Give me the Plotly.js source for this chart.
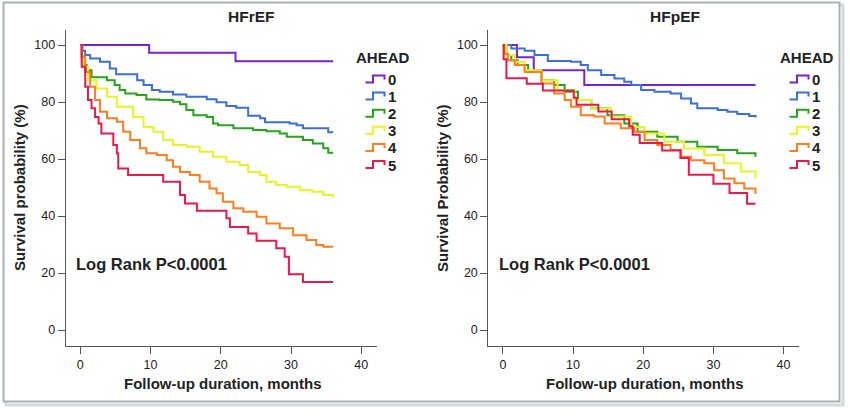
<!DOCTYPE html>
<html>
<head>
<meta charset="utf-8">
<script src="https://cdn.plot.ly/plotly-3.0.1.min.js"></script>
<style>html,body{margin:0;padding:0;background:#fff;}#chart{width:850px;height:416px;}</style>
</head>
<body>
<div id="chart"></div>
<script>
// ---------- data ----------
const groups = ['0', '1', '2', '3', '4', '5'];
const panelTitles = ['HFrEF', 'HFpEF'];
const yTitles = ['Survival probability (%)', 'Survival Probability (%)'];
const xTitle = 'Follow-up duration, months';
const legendTitle = 'AHEAD';
const pText = 'Log Rank P<0.0001';
const xTicks = [0, 10, 20, 30, 40];
const yTicks = [0, 20, 40, 60, 80, 100];

// HFrEF (left)
const rT0 = [0, 9.8, 22.1, 36];
const rS0 = [100, 97.3, 94.3, 94.3];
const rT1 = [0, 0.3, 0.7, 1.4, 2.8, 4.2, 5.1, 8.1, 9.0, 10.2, 11.3, 13.2, 15.1, 18.0, 19.4, 20.8, 22.2, 23.9, 25.6, 26.3, 29.8, 30.8, 31.7, 35.3, 36];
const rS1 = [100, 98, 96.5, 95.3, 94.2, 91.8, 89.8, 87.7, 86, 84.2, 83.6, 82.7, 81.9, 81, 79.9, 78.6, 78, 75.2, 74.3, 72.9, 72.5, 71.9, 70.8, 69.4, 69.4];
const rT2 = [0, 0.2, 0.4, 0.9, 1.6, 3.8, 4.9, 5.6, 6.4, 8.0, 9.4, 11.3, 13.2, 14.2, 15.1, 16.1, 18.0, 18.9, 19.6, 21.8, 24.6, 26.5, 28.4, 29.4, 31.7, 33.1, 34.6, 35.3, 36];
const rS2 = [100, 96, 93, 91.2, 88.7, 87.7, 86, 84.2, 83, 82.5, 80.9, 80.7, 80.1, 79.2, 77.2, 75.4, 74.8, 72.5, 71.9, 70.8, 70.2, 69.8, 69, 67.8, 66.7, 65.5, 63.8, 62.2, 62.2];
const rT3 = [0, 0.2, 0.4, 1.1, 2.3, 3.8, 5.2, 7.5, 9.0, 10.4, 11.8, 13.2, 15.1, 17.0, 18.9, 20.8, 22.7, 23.9, 25.6, 26.5, 27.9, 29.4, 31.3, 33.1, 34.6, 36];
const rS3 = [100, 95.5, 92.4, 87.7, 84.8, 81.9, 78.4, 74.8, 71.3, 69.6, 66.7, 64.9, 64.3, 62.6, 60.8, 59.1, 57.9, 55.5, 54.4, 52, 50.9, 50.3, 49.1, 48.5, 47.4, 46.6];
const rT4 = [0, 0.2, 0.7, 1.4, 2.1, 2.8, 3.8, 5.2, 6.1, 7.1, 8.5, 9.4, 10.9, 12.3, 13.2, 14.2, 15.6, 17.0, 18.4, 19.4, 20.3, 21.8, 23.2, 25.1, 26.5, 28.4, 30.3, 32.2, 33.6, 34.6, 36];
const rS4 = [100, 95.9, 90.6, 85.4, 80.7, 76.6, 74.3, 73.1, 69.6, 66.7, 63.8, 62, 61.4, 59.6, 57.3, 55.5, 54.4, 52, 49.7, 48, 45, 42.7, 41.5, 39.8, 37.4, 35.7, 33.3, 31.6, 29.8, 29.2, 29.2];
const rT5 = [0, 0.2, 0.7, 1.1, 1.6, 2.1, 2.6, 3.0, 4.7, 5.2, 5.4, 6.8, 11.8, 14.2, 14.9, 16.6, 20.8, 21.3, 23.9, 25.1, 27.9, 29.1, 29.7, 31.7, 36];
const rS5 = [100, 92.4, 85.4, 80.7, 77.8, 74.8, 72.5, 69, 64.9, 62, 56.7, 54.4, 52, 47.4, 44.4, 41.9, 39.2, 36.2, 33.9, 31.3, 28.7, 25.7, 19.6, 16.9, 16.9];

// HFpEF (right)
const pT0 = [0, 2.0, 4.4, 11.6, 36];
const pS0 = [100, 95.7, 91.2, 86, 86];
const pT1 = [0, 1.2, 3.1, 4.5, 6.4, 9.7, 11.1, 12.1, 14.0, 15.9, 17.3, 18.3, 19.7, 21.6, 23.9, 25.4, 26.8, 27.7, 30.6, 32.0, 33.4, 35.1, 36];
const pS1 = [100, 98.8, 98, 96.5, 94.4, 94.2, 93, 91.2, 89.5, 88.3, 87.1, 86, 84.2, 83.6, 83, 81.3, 79.5, 77.8, 77.2, 76.6, 75.8, 75.1, 74.6];
const pT2 = [0, 0.5, 1.2, 2.1, 3.6, 5.5, 7.3, 8.8, 10.7, 12.6, 14.9, 17.3, 19.2, 22.0, 24.9, 27.7, 30.6, 33.4, 36];
const pS2 = [100, 96.5, 94.7, 93, 90.6, 87.7, 86, 83.6, 80.7, 77.8, 75.4, 72.5, 69.6, 67.8, 66.1, 64.3, 63.2, 62, 60.8];
const pT3 = [0, 0.5, 1.7, 3.1, 5.5, 7.8, 10.2, 12.6, 15.4, 18.3, 20.2, 23.0, 25.8, 28.7, 31.5, 33.9, 36];
const pS3 = [100, 96.5, 94.2, 91.2, 87.7, 84.2, 80.7, 77.8, 74.9, 71.3, 69, 66.1, 63.7, 61.4, 58.5, 55.6, 53.2];
const pT4 = [0, 0.2, 0.7, 1.7, 3.1, 5.5, 7.3, 8.8, 9.7, 11.1, 13.0, 14.5, 16.8, 18.7, 20.2, 22.0, 23.9, 25.4, 26.8, 28.7, 30.1, 31.5, 33.0, 34.4, 36];
const pS4 = [100, 97, 94.7, 93, 90.6, 86.5, 83, 80.7, 78.4, 75.4, 74.9, 72.5, 70.8, 69.6, 66.7, 64.9, 63.2, 60.8, 59.6, 58.5, 56.1, 53.2, 51.5, 49.7, 47.7];
const pT5 = [0, 0.1, 0.5, 3.4, 5.7, 10.1, 10.5, 13.6, 15.5, 18.0, 18.5, 19.5, 22.7, 25.3, 26.5, 30.0, 32.3, 34.8, 36];
const pS5 = [100, 95, 88.4, 86.4, 84.1, 81.5, 79.1, 76.7, 74, 71.5, 68.5, 65.6, 63, 60.4, 54.5, 51.3, 48.1, 44.3, 44.3];

// ---------- style ----------
const colors = ['#7b22c9', '#3b6fd9', '#27a31f', '#e9f222', '#ff7d1f', '#e8194b'];
const W = 850, H = 416;
const FONT = 'Liberation Sans, Arial, sans-serif';
const px = v => v / W;
const py = v => 1 - v / H;

const left = [{ t: rT0, s: rS0 }, { t: rT1, s: rS1 }, { t: rT2, s: rS2 }, { t: rT3, s: rS3 }, { t: rT4, s: rS4 }, { t: rT5, s: rS5 }];
const right = [{ t: pT0, s: pS0 }, { t: pT1, s: pS1 }, { t: pT2, s: pS2 }, { t: pT3, s: pS3 }, { t: pT4, s: pS4 }, { t: pT5, s: pS5 }];

const traces = [];
[left, right].forEach((panel, pi) => {
  panel.forEach((d, gi) => {
    traces.push({
      x: d.t, y: d.s, type: 'scatter', mode: 'lines',
      line: { shape: 'hv', color: colors[gi], width: 2 },
      xaxis: pi === 0 ? 'x' : 'x2', yaxis: pi === 0 ? 'y' : 'y2',
      showlegend: false, hoverinfo: 'skip'
    });
  });
});

// panel geometry (pixels)
const panels = [
  { x0: 65.7, x1: 376.7, titleX: 252, yTitleX: 20, legX: 354, iconX: 365.5, pX: 74 },
  { x0: 488.3, x1: 799, titleX: 675, yTitleX: 443, legX: 778, iconX: 789.5, pX: 497 }
];
const yTop = 30, yBot = 345.7;

function axX(dom) {
  return {
    domain: dom, range: [-2.08, 42.2], tickvals: xTicks, ticktext: xTicks.map(String),
    ticks: 'outside', ticklen: 7, tickcolor: '#555', tickwidth: 1,
    showline: true, linecolor: '#555', linewidth: 1, showgrid: false, zeroline: false,
    tickfont: { family: FONT, size: 12.5, color: '#222' }, automargin: false, fixedrange: true
  };
}
function axY(anchor) {
  return {
    domain: [py(yBot), py(yTop)], range: [-5.5, 105.3], tickvals: yTicks, ticktext: yTicks.map(String),
    ticks: 'outside', ticklen: 7, tickcolor: '#555', tickwidth: 1,
    showline: true, linecolor: '#555', linewidth: 1, showgrid: false, zeroline: false,
    tickfont: { family: FONT, size: 12.5, color: '#222' }, automargin: false, anchor: anchor, fixedrange: true
  };
}

const annotations = [];
const shapes = [];
// frame with shadow
shapes.push({ type: 'rect', xref: 'paper', yref: 'paper', x0: px(6), x1: px(843), y0: py(5), y1: py(405),
  line: { color: '#d6d9d9', width: 3 }, fillcolor: 'rgba(0,0,0,0)', layer: 'below' });
shapes.push({ type: 'rect', xref: 'paper', yref: 'paper', x0: px(3.5), x1: px(839.5), y0: py(2.5), y1: py(401.5),
  line: { color: '#a9b2b2', width: 2 }, fillcolor: '#ffffff', layer: 'below' });

panels.forEach((p, pi) => {
  annotations.push({ text: '<b>' + panelTitles[pi] + '</b>', xref: 'paper', yref: 'paper', x: px(p.titleX), y: py(17),
    xanchor: 'center', yanchor: 'middle', showarrow: false, font: { family: FONT, size: 15.5, color: '#222' } });
  annotations.push({ text: '<b>' + xTitle + '</b>', xref: 'paper', yref: 'paper', x: px((p.x0 + p.x1) / 2 + 1), y: py(383),
    xanchor: 'center', yanchor: 'middle', showarrow: false, font: { family: FONT, size: 15, color: '#222' } });
  annotations.push({ text: '<b>' + yTitles[pi] + '</b>', xref: 'paper', yref: 'paper', x: px(p.yTitleX), y: py(188),
    xanchor: 'center', yanchor: 'middle', textangle: -90, showarrow: false, font: { family: FONT, size: 15, color: '#222' } });
  annotations.push({ text: '<b>' + pText + '</b>', xref: 'paper', yref: 'paper', x: px(p.pX), y: py(264),
    xanchor: 'left', yanchor: 'middle', showarrow: false, font: { family: FONT, size: 16.5, color: '#222' } });
  annotations.push({ text: '<b>' + legendTitle + '</b>', xref: 'paper', yref: 'paper', x: px(p.legX), y: py(57),
    xanchor: 'left', yanchor: 'middle', showarrow: false, font: { family: FONT, size: 15, color: '#222' } });
  groups.forEach((g, gi) => {
    const cy = 79 + gi * 17.1;
    annotations.push({ text: '<b>' + g + '</b>', xref: 'paper', yref: 'paper', x: px(p.iconX + 20), y: py(cy + 0.5),
      xanchor: 'left', yanchor: 'middle', showarrow: false, font: { family: FONT, size: 15, color: '#222' } });
    const a = p.iconX, b = p.iconX + 7.5, c = p.iconX + 19;
    const yb = cy + 3.5, yt = cy - 3.5, ye = cy + 0.5;
    shapes.push({ type: 'path', xref: 'paper', yref: 'paper',
      path: `M ${px(a)} ${py(yb)} L ${px(b)} ${py(yb)} L ${px(b)} ${py(yt)} L ${px(c)} ${py(yt)} L ${px(c)} ${py(ye)}`,
      line: { color: colors[gi], width: 2 } });
  });
});

const layout = {
  width: W, height: H, margin: { l: 0, r: 0, t: 0, b: 0 },
  paper_bgcolor: '#ffffff', plot_bgcolor: 'rgba(0,0,0,0)',
  showlegend: false,
  xaxis: Object.assign(axX([px(panels[0].x0), px(panels[0].x1)]), { anchor: 'y' }),
  yaxis: axY('x'),
  xaxis2: Object.assign(axX([px(panels[1].x0), px(panels[1].x1)]), { anchor: 'y2' }),
  yaxis2: axY('x2'),
  annotations: annotations, shapes: shapes,
  font: { family: FONT, color: '#222' }
};

Plotly.newPlot('chart', traces, layout, { displayModeBar: false, staticPlot: true });
</script>
</body>
</html>
